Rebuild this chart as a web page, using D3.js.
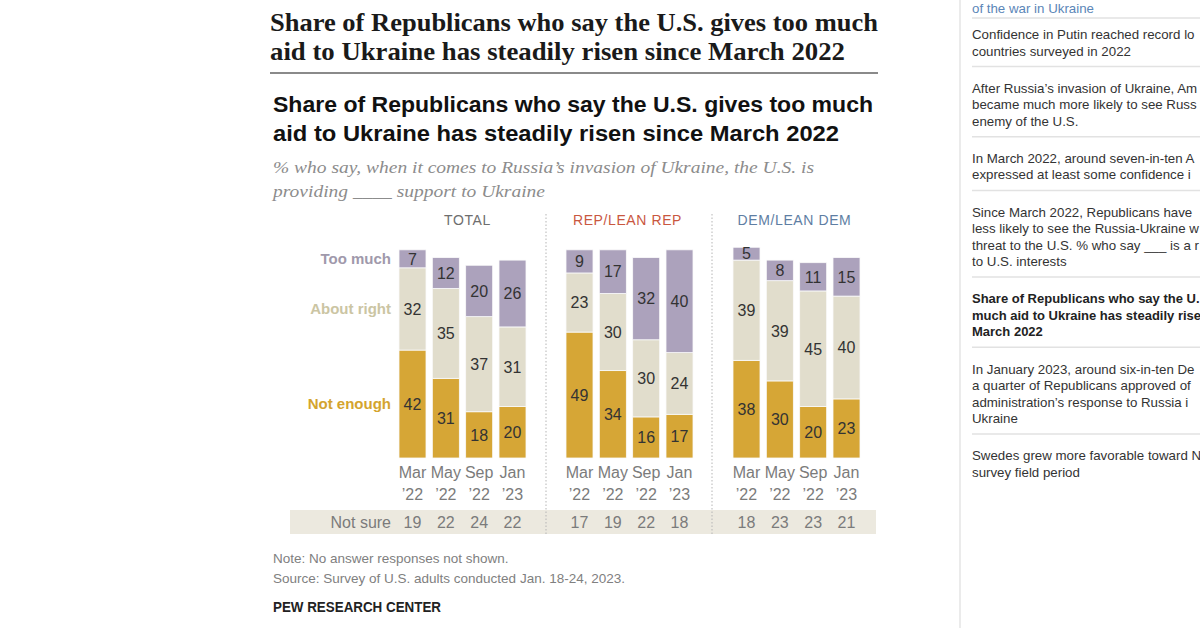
<!DOCTYPE html>
<html><head><meta charset="utf-8">
<script src="https://cdn.jsdelivr.net/npm/d3@7"></script>
<style>html,body{margin:0;padding:0;background:#fff;}svg{display:block;}</style>
</head><body>
<svg id="c" width="1200" height="628"></svg>
<script>
// ---- data ----
const groups = ["TOTAL", "REP/LEAN REP", "DEM/LEAN DEM"];
const monthNames = ["Mar", "May", "Sep", "Jan"];
const yearNames = ["’22", "’22", "’22", "’23"];
const series = ["Not enough", "About right", "Too much"];
const notEnough  = [[42, 31, 18, 20], [49, 34, 16, 17], [38, 30, 20, 23]];
const aboutRight = [[32, 35, 37, 31], [23, 30, 30, 24], [39, 39, 45, 40]];
const tooMuch    = [[7, 12, 20, 26],  [9, 17, 32, 40],  [5, 8, 11, 15]];
const notSure    = [[19, 22, 24, 22], [17, 19, 22, 18], [18, 23, 23, 21]];
const sidebarItems = [
  ["of the war in Ukraine"],
  ["Confidence in Putin reached record lo", "countries surveyed in 2022"],
  ["After Russia’s invasion of Ukraine, Am", "became much more likely to see Russ", "enemy of the U.S."],
  ["In March 2022, around seven-in-ten A", "expressed at least some confidence i"],
  ["Since March 2022, Republicans have", "less likely to see the Russia-Ukraine w", "threat to the U.S. % who say ___ is a r", "to U.S. interests"],
  ["Share of Republicans who say the U.", "much aid to Ukraine has steadily rise", "March 2022"],
  ["In January 2023, around six-in-ten De", "a quarter of Republicans approved of", "administration’s response to Russia i", "Ukraine"],
  ["Swedes grew more favorable toward N", "survey field period"]
];

const svg = d3.select("#c");
const sans = "'Liberation Sans', Arial, sans-serif";
const serif = "'Liberation Serif', 'DejaVu Serif', serif";

// ---- header title (serif) ----
const t1 = svg.append("text").attr("x", 270).attr("font-family", serif).attr("font-weight", "bold")
  .attr("font-size", 26).attr("fill", "#1a1a1a");
t1.append("tspan").attr("x", 270).attr("y", 31).attr("textLength", 608).attr("lengthAdjust", "spacingAndGlyphs")
  .text("Share of Republicans who say the U.S. gives too much");
t1.append("tspan").attr("x", 270).attr("y", 60).attr("textLength", 575).attr("lengthAdjust", "spacingAndGlyphs")
  .text("aid to Ukraine has steadily risen since March 2022");
svg.append("line").attr("x1", 270).attr("x2", 878).attr("y1", 73).attr("y2", 73)
  .attr("stroke", "#8a8a8a").attr("stroke-width", 2);

// ---- chart title ----
const t2 = svg.append("text").attr("font-family", sans).attr("font-weight", "bold")
  .attr("font-size", 22).attr("fill", "#111");
t2.append("tspan").attr("x", 273).attr("y", 112).attr("textLength", 600).attr("lengthAdjust", "spacingAndGlyphs")
  .text("Share of Republicans who say the U.S. gives too much");
t2.append("tspan").attr("x", 273).attr("y", 141).attr("textLength", 566).attr("lengthAdjust", "spacingAndGlyphs")
  .text("aid to Ukraine has steadily risen since March 2022");

const st = svg.append("text").attr("font-family", serif).attr("font-style", "italic")
  .attr("font-size", 17).attr("fill", "#8c8c8c");
st.append("tspan").attr("x", 273).attr("y", 173).attr("textLength", 541).attr("lengthAdjust", "spacingAndGlyphs")
  .text("% who say, when it comes to Russia’s invasion of Ukraine, the U.S. is");
st.append("tspan").attr("x", 273).attr("y", 197).attr("textLength", 272).attr("lengthAdjust", "spacingAndGlyphs")
  .text("providing ____ support to Ukraine");

// ---- scales ----
const y = d3.scaleLinear().domain([0, 100]).range([458, 201]);
const panelX = d3.scaleBand().domain(groups).range([399, 900]).paddingInner(0).paddingOuter(0);
const colors = d3.scaleOrdinal().domain(series).range(["#d6a636", "#e1ddcc", "#aca2bc"]);
const labelColors = d3.scaleOrdinal().domain(series).range(["#d4a42e", "#cbc5a3", "#a099ab"]);
const headColors = ["#6e6e6e", "#c9573f", "#5e7ea3"];

// not sure band
svg.append("rect").attr("x", 290).attr("y", 510).attr("width", 586).attr("height", 24).attr("fill", "#ece9df");
svg.append("text").attr("x", 391).attr("y", 528).attr("text-anchor", "end").attr("font-family", sans)
  .attr("font-size", 16).attr("fill", "#7b7b7b").text("Not sure");

// dividers
[546, 712].forEach(xv => {
  svg.append("line").attr("x1", xv).attr("x2", xv).attr("y1", 214).attr("y2", 536)
    .attr("stroke", "#b5b5b5").attr("stroke-width", 1).attr("stroke-dasharray", "1.5,2");
});

groups.forEach((g, gi) => {
  const x0 = panelX(g);
  const x = d3.scaleBand().domain(monthNames).range([x0, x0 + 127]).paddingInner(0.19).paddingOuter(0);
  const cx = x0 + 127 / 2;
  svg.append("text").attr("x", cx + (gi === 0 ? 5 : -2)).attr("y", 225).attr("text-anchor", "middle")
    .attr("font-family", sans).attr("font-size", 14).attr("letter-spacing", 0.6)
    .attr("fill", headColors[gi]).text(g);

  const rows = monthNames.map((m, i) => ({
    month: m, "Not enough": notEnough[gi][i], "About right": aboutRight[gi][i], "Too much": tooMuch[gi][i]
  }));
  const stacked = d3.stack().keys(series)(rows);
  const gp = svg.append("g");
  stacked.forEach(layer => {
    layer.forEach(d => {
      gp.append("rect").attr("x", x(d.data.month)).attr("width", x.bandwidth())
        .attr("y", y(d[1])).attr("height", y(d[0]) - y(d[1]))
        .attr("fill", colors(layer.key)).attr("stroke", "#fafafa").attr("stroke-width", 0.8);
      gp.append("text").attr("x", x(d.data.month) + x.bandwidth() / 2).attr("y", (y(d[0]) + y(d[1])) / 2)
        .attr("dy", "0.36em").attr("text-anchor", "middle").attr("font-family", sans)
        .attr("font-size", 16).attr("fill", "#333").text(d[1] - d[0]);
    });
  });

  monthNames.forEach((m, i) => {
    const mx = x(m) + x.bandwidth() / 2;
    svg.append("text").attr("x", mx).attr("y", 478).attr("text-anchor", "middle").attr("font-family", sans)
      .attr("font-size", 16).attr("fill", "#7b7b7b").text(m);
    svg.append("text").attr("x", mx).attr("y", 500).attr("text-anchor", "middle").attr("font-family", sans)
      .attr("font-size", 16).attr("fill", "#7b7b7b").text(yearNames[i]);
    svg.append("text").attr("x", mx).attr("y", 528).attr("text-anchor", "middle").attr("font-family", sans)
      .attr("font-size", 16).attr("fill", "#7b7b7b").text(notSure[gi][i]);
  });

  if (gi === 0) {
    const first = rows[0];
    let base = 0;
    series.forEach(s => {
      const mid = (y(base) + y(base + first[s])) / 2;
      base += first[s];
      svg.append("text").attr("x", 391).attr("y", mid).attr("dy", "0.36em").attr("text-anchor", "end")
        .attr("font-family", sans).attr("font-weight", "bold").attr("font-size", 15)
        .attr("fill", labelColors(s)).text(s);
    });
  }
});

// ---- notes ----
svg.append("text").attr("x", 273).attr("y", 563).attr("font-family", sans).attr("font-size", 13.5)
  .attr("fill", "#808080").text("Note: No answer responses not shown.");
svg.append("text").attr("x", 273).attr("y", 583).attr("font-family", sans).attr("font-size", 13.5)
  .attr("fill", "#808080").text("Source: Survey of U.S. adults conducted Jan. 18-24, 2023.");
svg.append("text").attr("x", 273).attr("y", 612).attr("font-family", sans).attr("font-weight", "bold")
  .attr("font-size", 14).attr("fill", "#222").attr("textLength", 168).attr("lengthAdjust", "spacingAndGlyphs")
  .text("PEW RESEARCH CENTER");

// ---- sidebar ----
svg.append("line").attr("x1", 960).attr("x2", 960).attr("y1", 0).attr("y2", 628)
  .attr("stroke", "#e4e4e4").attr("stroke-width", 1.5);
const side = svg.append("g");
const lineH = 16.5, gap = 37.2;
let yy = 39 - gap;
sidebarItems.forEach((lines, k) => {
  const baseY = k === 0 ? 13 : yy;   // first (partially scrolled) item kept fully visible
  lines.forEach((ln, j) => {
    side.append("text").attr("x", 972).attr("y", baseY + j * lineH)
      .attr("font-family", sans).attr("font-size", k === 5 ? 13 : 13.3)
      .attr("font-weight", k === 5 ? "bold" : "normal")
      .attr("fill", k === 0 ? "#5b86b8" : (k === 5 ? "#222" : "#333")).text(ln);
  });
  const last = yy + (lines.length - 1) * lineH;
  if (k < sidebarItems.length - 1) {
    const sy = k === 0 ? 18 : last + 11;
    side.append("line").attr("x1", 972).attr("x2", 1200).attr("y1", sy).attr("y2", sy)
      .attr("stroke", "#e2e2e2").attr("stroke-width", 1.5);
  }
  yy = last + gap;
});
</script>
</body></html>
